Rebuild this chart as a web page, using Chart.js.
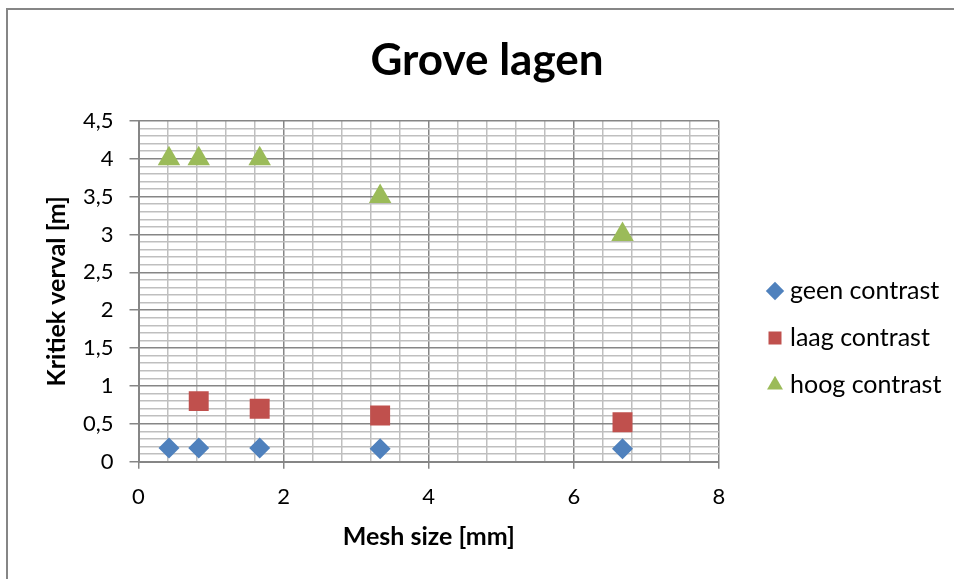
<!DOCTYPE html>
<html><head><meta charset="utf-8">
<script src="https://cdn.jsdelivr.net/npm/chart.js@4.4.1/dist/chart.umd.min.js"></script>
<style>html,body{margin:0;padding:0;background:#fff;} canvas{display:block;}</style>
</head><body>
<canvas id="c" width="954" height="579"></canvas>
<script>
// ---- data ----
const chartTitle = 'Grove lagen';
const xAxisTitle = 'Mesh size [mm]';
const yAxisTitle = 'Kritiek verval [m]';
const seriesNames = ['geen contrast', 'laag contrast', 'hoog contrast'];
const meshSize = [0.42, 0.83, 1.67, 3.33, 6.67];
const geenContrast = [0.18, 0.18, 0.18, 0.17, 0.17];
const laagMesh = [0.83, 1.67, 3.33, 6.67];
const laagContrast = [0.80, 0.70, 0.61, 0.52];
const hoogContrast = [4.0, 4.0, 4.0, 3.5, 3.0];
const xTicks = [0, 2, 4, 6, 8];
const yTicks = [0, 0.5, 1, 1.5, 2, 2.5, 3, 3.5, 4, 4.5];

// ---- styling ----
const MAJOR = '#868686', MINOR = '#BFBFBF';
const FONT = 'Lato';
const fmt = v => String(Math.round(v * 10) / 10).replace('.', ',');
const isXMajor = v => xTicks.some(t => Math.abs(t - v) < 1e-6);
const isYMajor = v => yTicks.some(t => Math.abs(t - v) < 1e-6);

const frame = {
  id: 'frame',
  beforeDraw(chart) {
    const c = chart.ctx; c.save();
    c.fillStyle = '#fff'; c.fillRect(0, 0, chart.width, chart.height);
    c.strokeStyle = MAJOR; c.lineWidth = 2;
    c.strokeRect(7, 9, chart.width + 20, chart.height + 20);
    c.restore();
  }
};
const legendWidth = {
  id: 'legendWidth',
  beforeInit(chart) {
    const lg = chart.legend; if (!lg) return;
    const f = lg.fit;
    lg.fit = function () { f.call(this); this.width = 203.5; };
  }
};

new Chart(document.getElementById('c'), {
  type: 'scatter',
  data: {
    datasets: [
      { label: seriesNames[0], data: meshSize.map((x, i) => ({ x, y: geenContrast[i] })),
        pointStyle: 'rectRot', pointRadius: 10.5, pointHoverRadius: 10.5,
        backgroundColor: '#4F81BD', borderColor: '#4F81BD', borderWidth: 0 },
      { label: seriesNames[1], data: laagMesh.map((x, i) => ({ x, y: laagContrast[i] })),
        pointStyle: 'rect', pointRadius: 14.1, pointHoverRadius: 14.1,
        backgroundColor: '#C0504D', borderColor: '#C0504D', borderWidth: 0 },
      { label: seriesNames[2], data: meshSize.map((x, i) => ({ x, y: hoogContrast[i] })),
        pointStyle: 'triangle', pointRadius: 13, pointHoverRadius: 13,
        backgroundColor: '#9BBB59', borderColor: '#9BBB59', borderWidth: 0 }
    ]
  },
  options: {
    responsive: false, animation: false, devicePixelRatio: 1,
    layout: { padding: { left: 20, right: 0, top: 0, bottom: 0 } },
    plugins: {
      title: { display: true, text: chartTitle, color: '#000',
        font: { family: FONT, size: 44, weight: 'bold', lineHeight: 1.2 },
        padding: { top: 34, bottom: 34 } },
      legend: { position: 'right', align: 'center',
        title: { display: true, text: ' ', font: { size: 10, lineHeight: 1.2 }, padding: { top: 85, bottom: 0 } },
        labels: { usePointStyle: true, boxWidth: 5, boxHeight: 13, padding: 22, color: '#000',
          font: { family: FONT, size: 25 } } },
      tooltip: { enabled: false }
    },
    scales: {
      x: { type: 'linear', position: 'bottom', min: 0, max: 8,
        afterFit(s) { s.height = 117.3; },
        ticks: { stepSize: 0.4, autoSkip: false, maxRotation: 0, padding: 15, color: '#000',
          font: { family: FONT, size: 22 }, callback: v => isXMajor(v) ? fmt(v) : '' },
        grid: { color: c => isXMajor(c.tick.value) ? MAJOR : MINOR, lineWidth: 1.5,
          tickLength: 7, tickColor: c => isXMajor(c.tick.value) ? MAJOR : 'rgba(0,0,0,0)' },
        border: { color: MAJOR, width: 2 },
        title: { display: true, text: xAxisTitle, color: '#000',
          font: { family: FONT, size: 25, weight: 'bold' }, padding: { top: 0, bottom: 27 } } },
      y: { type: 'linear', position: 'left', min: 0, max: 4.5,
        afterFit(s) { s.width = 118.5; },
        ticks: { stepSize: 0.1, autoSkip: false, padding: 16, color: '#000',
          font: { family: FONT, size: 22 }, callback: v => isYMajor(v) ? fmt(v) : '' },
        grid: { color: c => isYMajor(c.tick.value) ? MAJOR : MINOR, lineWidth: 1.5,
          tickLength: 9, tickColor: c => isYMajor(c.tick.value) ? MAJOR : 'rgba(0,0,0,0)' },
        border: { color: MAJOR, width: 2 },
        title: { display: true, text: yAxisTitle, color: '#000',
          font: { family: FONT, size: 25, weight: 'bold' }, padding: { top: 22, bottom: 0 } } },
      y2: { type: 'linear', position: 'right', display: true,
        grid: { display: false }, border: { display: false }, ticks: { display: false },
        afterFit(s) { s.width = 31.5; } }
    }
  },
  plugins: [frame, legendWidth]
});
</script>
</body></html>
